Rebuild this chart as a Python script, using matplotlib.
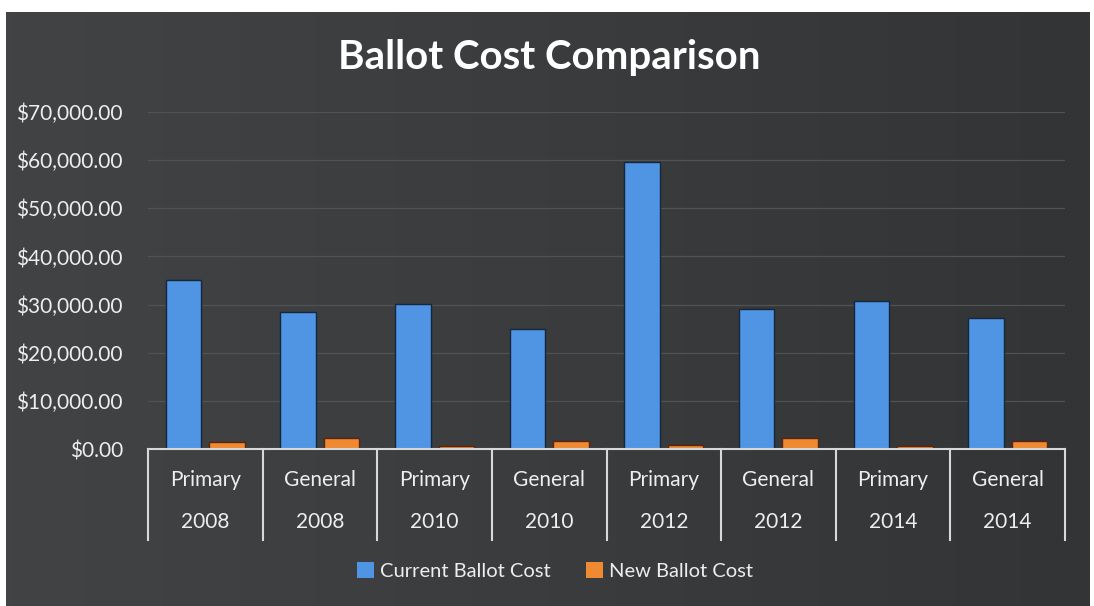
import matplotlib.pyplot as plt
import numpy as np
from matplotlib.lines import Line2D
from matplotlib.patches import Patch

elections = ["Primary", "General", "Primary", "General", "Primary", "General", "Primary", "General"]
years = ["2008", "2008", "2010", "2010", "2012", "2012", "2014", "2014"]
current_cost = [35100, 28500, 30200, 24900, 59700, 29100, 30800, 27200]
new_cost = [1500, 2300, 600, 1600, 900, 2300, 700, 1600]
yticks = [0, 10000, 20000, 30000, 40000, 50000, 60000, 70000]

plt.rcParams['font.family'] = ['Lato', 'DejaVu Sans']

fig = plt.figure(figsize=(10.94, 6.06), dpi=100)
fig.patch.set_facecolor('white')

# dark chart area (slight left-to-right shading like the printout)
bg = fig.add_axes([6/1094, 0, 1084/1094, 1 - 12/606])
grad = np.linspace(0, 1, 256).reshape(1, -1)
bg.imshow(grad, aspect='auto', cmap=plt.matplotlib.colors.LinearSegmentedColormap.from_list(
    'bgc', ['#414345', '#3a3c3e', '#323436']), extent=[0, 1, 0, 1])
bg.set_axis_off()

ax = fig.add_axes([148/1094, 1 - 449/606, (1065 - 148)/1094, (449 - 112)/606])
ax.set_facecolor('none')

x = np.arange(len(current_cost))
w = 0.31
ax.bar(x - 0.19, current_cost, w, color='#5095e3', edgecolor='#16263c', linewidth=1.0, zorder=3)
ax.bar(x + 0.19, new_cost, w, color='#f08a32', edgecolor='#5a2410', linewidth=1.0, zorder=3)

ax.set_xlim(-0.5, len(x) - 0.5)
ax.set_ylim(0, 70000)
ax.set_yticks(yticks)
ax.set_yticklabels(['${:,.2f}'.format(v) for v in yticks], color='#eeeeee', fontsize=15)
ax.tick_params(axis='y', length=0, pad=18)
ax.set_xticks([])
ax.grid(axis='y', color='#505254', linewidth=0.9, zorder=0)
for s in ['top', 'right', 'left']:
    ax.spines[s].set_visible(False)
ax.spines['bottom'].set_color('#d8d8d8')
ax.spines['bottom'].set_linewidth(1.5)
ax.spines['bottom'].set_zorder(4)

# multi-level category labels with separators
tr = ax.get_xaxis_transform()
depth = -(540 - 449) / 337
for b in np.arange(len(x) + 1) - 0.5:
    ax.add_line(Line2D([b, b], [0, depth], transform=tr, color='#d8d8d8', linewidth=1.5, clip_on=False))
for i in x:
    ax.text(i, -(480 - 449) / 337, elections[i], transform=tr, ha='center', va='center',
            color='#eeeeee', fontsize=15)
    ax.text(i, -(522 - 449) / 337, years[i], transform=tr, ha='center', va='center',
            color='#eeeeee', fontsize=15)

fig.text(549/1094, 1 - 57/606, 'Ballot Cost Comparison', ha='center', va='center',
         color='white', fontsize=29, fontweight='bold')

handles = [Patch(facecolor='#5095e3', edgecolor='none', label='Current Ballot Cost'),
           Patch(facecolor='#f08a32', edgecolor='none', label='New Ballot Cost')]
leg = fig.legend(handles=handles, loc='center', bbox_to_anchor=(555/1094, 1 - 571/606), ncol=2,
                 frameon=False, fontsize=14.5, handlelength=0.8, handleheight=0.8,
                 handletextpad=0.3, columnspacing=1.8)
for t in leg.get_texts():
    t.set_color('#eeeeee')

fig.savefig('out.png', dpi=100, facecolor=fig.get_facecolor())
